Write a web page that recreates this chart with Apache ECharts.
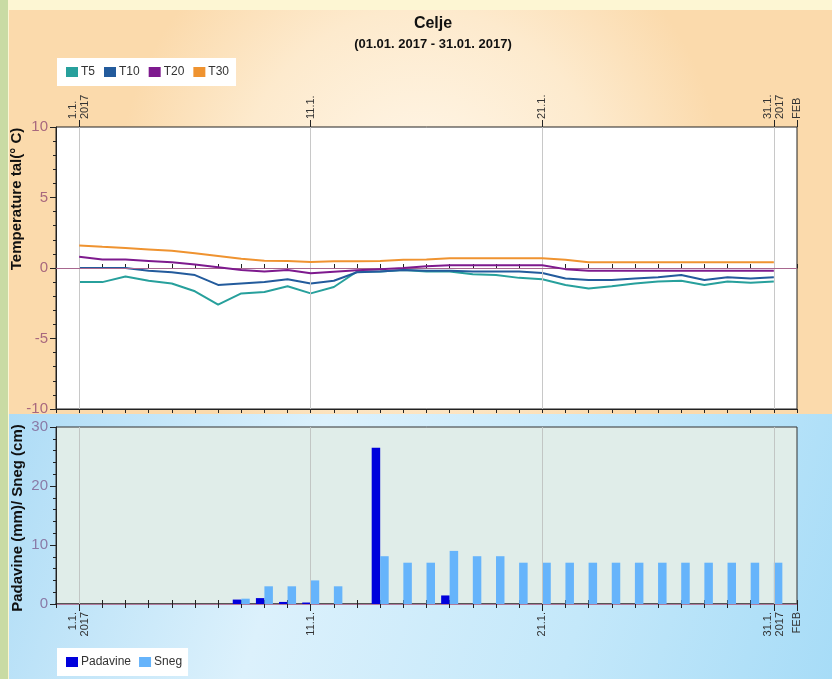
<!DOCTYPE html>
<html>
<head>
<meta charset="utf-8">
<style>
  html, body { margin: 0; padding: 0; }
  #chart { width: 832px; height: 679px; }
</style>
<script src="https://cdn.jsdelivr.net/npm/echarts@6.0.0/dist/echarts.min.js"></script>
</head>
<body>
<div id="chart"></div>
<script>
// dnevi v januarju 2017
const days = [1, 2, 3, 4, 5, 6, 7, 8, 9, 10, 11, 12, 13, 14, 15, 16, 17, 18, 19, 20, 21, 22, 23, 24, 25, 26, 27, 28, 29, 30, 31]

// temperature tal (°C)
const t5 = [-1.0, -1.0, -0.6, -0.9, -1.1, -1.65, -2.6, -1.8, -1.7, -1.3, -1.8, -1.35, -0.25, -0.25, -0.15, -0.25, -0.25, -0.45, -0.5, -0.7, -0.8, -1.2, -1.45, -1.3, -1.1, -0.95, -0.9, -1.2, -0.95, -1.05, -0.95]
const t10 = [0, 0, 0, -0.2, -0.3, -0.5, -1.2, -1.1, -1.0, -0.8, -1.1, -0.9, -0.3, -0.25, -0.15, -0.2, -0.2, -0.25, -0.25, -0.25, -0.35, -0.75, -0.85, -0.85, -0.75, -0.65, -0.5, -0.85, -0.65, -0.75, -0.65]
const t20 = [0.8, 0.6, 0.6, 0.5, 0.4, 0.25, 0.05, -0.15, -0.25, -0.15, -0.38, -0.26, -0.16, -0.08, 0, 0.12, 0.2, 0.2, 0.2, 0.2, 0.2, -0.08, -0.2, -0.2, -0.2, -0.2, -0.2, -0.2, -0.2, -0.2, -0.2]
const t30 = [1.6, 1.5, 1.42, 1.32, 1.22, 1.04, 0.85, 0.66, 0.52, 0.5, 0.42, 0.48, 0.48, 0.5, 0.58, 0.6, 0.7, 0.7, 0.7, 0.7, 0.7, 0.58, 0.4, 0.4, 0.4, 0.4, 0.4, 0.4, 0.4, 0.4, 0.4]

// padavine (mm) in sneg (cm)
const padavine = [0, 0, 0, 0, 0, 0, 0, 0.75, 1.0, 0.35, 0.25, 0, 0, 26.5, 0, 0, 1.45, 0, 0, 0, 0, 0, 0, 0, 0, 0, 0, 0, 0, 0, 0]
const sneg = [0, 0, 0, 0, 0, 0, 0, 0.9, 3.0, 3.0, 4.0, 3.0, 0, 8.1, 7, 7, 9, 8.1, 8.1, 7, 7, 7, 7, 7, 7, 7, 7, 7, 7, 7, 7]

// oznake na časovni osi
const labelDays = [1, 11, 21, 31, 32]
const labelTexts = ['1.1.\n2017', '11.1.', '21.1.', '31.1.\n2017', 'FEB']
const gridDays = [1, 11, 21, 31]

const pairs = arr => arr.map((v, i) => [days[i], v])
const dayLabel = v => {
  const i = labelDays.indexOf(v)
  return i >= 0 ? labelTexts[i] : ''
}
const labelColor = v => (v === 32 ? '#8b1a1a' : '#333')

const font = '"Liberation Sans", Arial, sans-serif'
const G = { left: 56, width: 741 }

const baseX = {
  type: 'value',
  min: 0,
  max: 32,
  interval: 1,
  splitLine: { show: false },
  axisLabel: { show: false },
  axisLine: { show: true, lineStyle: { color: '#222', width: 1 } },
  axisTick: { show: true, length: 4, lineStyle: { color: '#222' } }
}
const labelX = (gridIndex, position, rotate) => ({
  ...baseX,
  gridIndex,
  position,
  axisLine: { show: false },
  axisTick: { show: true, length: 7, customValues: labelDays, lineStyle: { color: '#222' } },
  axisLabel: {
    show: true,
    customValues: labelDays,
    rotate,
    margin: 8,
    fontSize: 11,
    fontFamily: font,
    lineHeight: 12,
    color: labelColor,
    formatter: dayLabel
  }
})
const gridMarks = color => ({
  silent: true, symbol: 'none', label: { show: false },
  data: gridDays.map(d => ({ xAxis: d, lineStyle: { color, width: 1, type: 'solid' } }))
})

const chart = echarts.init(document.getElementById('chart'))
chart.setOption({
  animation: false,
  backgroundColor: '#fdf6d3',
  graphic: [
    { type: 'rect', z: -10, shape: { x: 0, y: 0, width: 8, height: 679 }, style: { fill: '#c9dba4' } },
    {
      type: 'rect', z: -10, shape: { x: 9, y: 10, width: 823, height: 404 },
      style: {
        fill: new echarts.graphic.RadialGradient(0.5, 0.45, 0.75, [
          { offset: 0, color: '#fff7ea' },
          { offset: 0.6, color: '#fdeacd' },
          { offset: 1, color: '#fbdaac' }
        ])
      }
    },
    {
      type: 'rect', z: -10, shape: { x: 9, y: 414, width: 823, height: 265 },
      style: {
        fill: new echarts.graphic.LinearGradient(0, 0, 1, 1, [
          { offset: 0, color: '#aedcf6' },
          { offset: 0.35, color: '#dcf1fc' },
          { offset: 0.7, color: '#c4e8fa' },
          { offset: 1, color: '#a7dcf7' }
        ])
      }
    },
    {
      type: 'text', x: 17, y: 199, rotation: Math.PI / 2,
      style: { text: 'Temperature tal(° C)', font: 'bold 15px ' + font, fill: '#111', align: 'center', verticalAlign: 'middle' }
    },
    {
      type: 'text', x: 18, y: 518, rotation: Math.PI / 2,
      style: { text: 'Padavine (mm)/ Sneg (cm)', font: 'bold 15px ' + font, fill: '#111', align: 'center', verticalAlign: 'middle' }
    }
  ],
  title: {
    text: 'Celje',
    subtext: '(01.01. 2017 - 31.01. 2017)',
    left: 428,
    top: 11,
    textAlign: 'center',
    itemGap: 6,
    textStyle: { fontSize: 16, fontWeight: 'bold', color: '#111', fontFamily: font },
    subtextStyle: { fontSize: 13, fontWeight: 'bold', color: '#111', fontFamily: font }
  },
  legend: [
    {
      data: ['T5', 'T10', 'T20', 'T30'],
      left: 57, top: 58,
      backgroundColor: '#fff',
      padding: [8, 7, 8, 9],
      icon: 'rect', itemWidth: 12, itemHeight: 10, itemGap: 9,
      textStyle: { fontSize: 12, color: '#333', fontFamily: font, padding: [0, 0, 0, -2] }
    },
    {
      data: ['Padavine', 'Sneg'],
      left: 57, top: 648,
      backgroundColor: '#fff',
      padding: [8, 6, 8, 9],
      icon: 'rect', itemWidth: 12, itemHeight: 10, itemGap: 8,
      textStyle: { fontSize: 12, color: '#333', fontFamily: font, padding: [0, 0, 0, -2] }
    }
  ],
  grid: [
    { ...G, top: 127, height: 282, show: true, backgroundColor: '#ffffff', borderColor: '#222', borderWidth: 1 },
    { ...G, top: 427, height: 177, show: true, backgroundColor: '#e0ede9', borderColor: '#333', borderWidth: 1 }
  ],
  xAxis: [
    { ...baseX, gridIndex: 0, position: 'top' },
    labelX(0, 'top', -90),
    { ...baseX, gridIndex: 0, position: 'bottom' },
    { ...baseX, gridIndex: 1, position: 'top', axisLine: { show: true, lineStyle: { color: '#555', width: 2 } } },
    { ...baseX, gridIndex: 1, position: 'bottom', axisLine: { show: true, lineStyle: { color: '#b07a9c', width: 1 } } },
    labelX(1, 'bottom', 90)
  ],
  yAxis: [
    {
      type: 'value', gridIndex: 0, min: -10, max: 10, interval: 5,
      axisLine: { show: true, lineStyle: { color: '#222' } },
      axisTick: { show: true, length: 6, lineStyle: { color: '#222' } },
      minorTick: { show: true, splitNumber: 5, length: 3, lineStyle: { color: '#222' } },
      splitLine: { show: false },
      axisLabel: { fontSize: 15, color: '#a8687e', fontFamily: font, margin: 8 }
    },
    {
      type: 'value', gridIndex: 1, min: 0, max: 30, interval: 10,
      axisLine: { show: true, lineStyle: { color: '#222' } },
      axisTick: { show: true, length: 6, lineStyle: { color: '#222' } },
      minorTick: { show: true, splitNumber: 5, length: 3, lineStyle: { color: '#222' } },
      splitLine: { show: false },
      axisLabel: { fontSize: 15, color: '#8a7aa6', fontFamily: font, margin: 8 }
    }
  ],
  series: [
    {
      name: 'T5', type: 'line', xAxisIndex: 0, yAxisIndex: 0, data: pairs(t5),
      symbol: 'none', lineStyle: { width: 2, color: '#27a09c' }, itemStyle: { color: '#27a09c' },
      markLine: {
        silent: true, symbol: 'none', label: { show: false },
        data: gridDays.map(d => ({ xAxis: d, lineStyle: { color: '#c8c8c8', width: 1, type: 'solid' } }))
          .concat([{ yAxis: 0, lineStyle: { color: '#a8678f', width: 1, type: 'solid' } }])
      },
      z: 3
    },
    { name: 'T10', type: 'line', xAxisIndex: 0, yAxisIndex: 0, data: pairs(t10), symbol: 'none', lineStyle: { width: 2, color: '#235b9c' }, itemStyle: { color: '#235b9c' }, z: 4 },
    { name: 'T20', type: 'line', xAxisIndex: 0, yAxisIndex: 0, data: pairs(t20), symbol: 'none', lineStyle: { width: 2, color: '#7e1a8e' }, itemStyle: { color: '#7e1a8e' }, z: 5 },
    { name: 'T30', type: 'line', xAxisIndex: 0, yAxisIndex: 0, data: pairs(t30), symbol: 'none', lineStyle: { width: 2, color: '#ef9330' }, itemStyle: { color: '#ef9330' }, z: 6 },
    { name: 'grid', type: 'line', xAxisIndex: 4, yAxisIndex: 1, data: [], markLine: gridMarks('#c2c6c4'), z: 1 },
    { name: 'Padavine', type: 'bar', xAxisIndex: 4, yAxisIndex: 1, data: pairs(padavine), barWidth: 8.5, barGap: '0%', itemStyle: { color: '#0000dc' }, z: 2 },
    { name: 'Sneg', type: 'bar', xAxisIndex: 4, yAxisIndex: 1, data: pairs(sneg), barWidth: 8.5, barGap: '0%', itemStyle: { color: '#66b4fb' }, z: 2 }
  ]
})
</script>
</body>
</html>
